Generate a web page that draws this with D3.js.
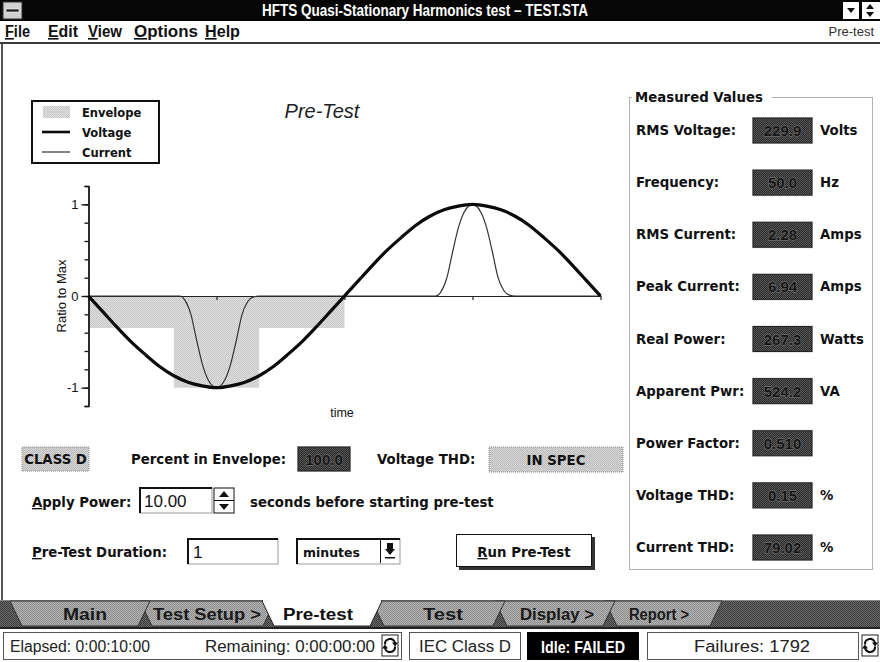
<!DOCTYPE html>
<html>
<head>
<meta charset="utf-8">
<script src="https://cdn.jsdelivr.net/npm/d3@7"></script>
<style>
  body { margin: 0; background: #fff; }
  svg { display: block; }
</style>
</head>
<body>
<script>
// Chart data (x in degrees of one mains cycle)
const voltageDeg = [0,10,20,30,40,50,60,70,80,90,100,110,120,130,140,150,160,170,180,190,200,210,220,230,240,250,260,270,280,290,300,310,320,330,340,350,360];
const voltage = [0,-0.17,-0.34,-0.5,-0.64,-0.77,-0.87,-0.94,-0.98,-1,-0.98,-0.94,-0.87,-0.77,-0.64,-0.5,-0.34,-0.17,0,0.17,0.34,0.5,0.64,0.77,0.87,0.94,0.98,1,0.98,0.94,0.87,0.77,0.64,0.5,0.34,0.17,0];

const currentDeg = [0,64,68,72,76,80,84,88,90,92,96,100,104,108,112,116,120,180,244,248,252,256,260,264,268,270,272,276,280,284,288,292,296,300,360];
const current = [0,0,-0.05,-0.2,-0.48,-0.74,-0.91,-0.99,-1,-0.99,-0.91,-0.74,-0.48,-0.2,-0.06,-0.01,0,0,0,0.05,0.2,0.48,0.74,0.91,0.99,1,0.99,0.91,0.74,0.48,0.2,0.06,0.01,0,0];

// Class D envelope (step levels)
const envelopeDeg = [0,60,120,180];
const envelopeLevel = [-0.35,-1,-0.35,-0.35];

const yMinorTicks = [-1.2,-1,-0.8,-0.6,-0.4,-0.2,0,0.2,0.4,0.6,0.8,1,1.2];
const yMajorTicks = [-1,0,1];
const xTicks = [0,90,180,270,360];

const legendItems = ["Envelope","Voltage","Current"];

// Measured values panel
const mvLabels = ["RMS Voltage:","Frequency:","RMS Current:","Peak Current:","Real Power:","Apparent Pwr:","Power Factor:","Voltage THD:","Current THD:"];
const mvValues = ["229.9","50.0","2.28","6.94","267.3","524.2","0.510","0.15","79.02"];
const mvUnits = ["Volts","Hz","Amps","Amps","Watts","VA","","%","%"];

const menuItems = ["File","Edit","View","Options","Help"];
const tabNames = ["Main","Test Setup >","Pre-test","Test","Display >","Report >"];
const activeTab = "Pre-test";

const W = 880, H = 662;
const SANS = "'Liberation Sans', Arial, sans-serif";
const BOLD = "'DejaVu Sans', 'Liberation Sans', sans-serif";   // stands in for MS Sans Serif bold
const NARROW = "'Liberation Sans Narrow', 'Liberation Sans', Arial, sans-serif";

const svg = d3.select("body").append("svg")
  .attr("width", W).attr("height", H)
  .style("font-family", SANS);

// dither patterns, like the old 16 colour screen
const defs = svg.append("defs");
function dither(id, a, b) {
  const p = defs.append("pattern").attr("id", id)
    .attr("width", 2).attr("height", 2).attr("patternUnits", "userSpaceOnUse");
  p.append("rect").attr("width", 2).attr("height", 2).attr("fill", a);
  p.append("rect").attr("width", 1).attr("height", 1).attr("fill", b);
  p.append("rect").attr("x", 1).attr("y", 1).attr("width", 1).attr("height", 1).attr("fill", b);
}
dither("darkBox", "#2c2c2c", "#555");
dither("lightBox", "#d6d6d6", "#bcbcbc");
dither("envFill", "#dedede", "#c8c8c8");
dither("tabFill", "#b4b4b4", "#8c8c8c");
dither("stripFill", "#6a6a6a", "#3c3c3c");

function label(g, x, y, str, o = {}) {
  const t = g.append("text").attr("x", x).attr("y", y)
    .attr("font-size", o.size || 13.3)
    .attr("font-weight", o.weight || "bold")
    .attr("fill", o.fill || "#111")
    .attr("text-anchor", o.anchor || "start")
    .style("font-family", o.family || BOLD);
  if (o.len) t.attr("textLength", o.len).attr("lengthAdjust", "spacingAndGlyphs");
  if (o.underline) {
    t.append("tspan").style("text-decoration", "underline").text(str[0]);
    t.append("tspan").text(str.slice(1));
  } else {
    t.text(str);
  }
  return t;
}

// ---------- title bar ----------
svg.append("rect").attr("x", 0).attr("y", 0).attr("width", W).attr("height", 21).attr("fill", "#060606");
svg.append("rect").attr("x", 3).attr("y", 2).attr("width", 19).attr("height", 17).attr("fill", "#d0d0d0").attr("stroke", "#333");
svg.append("rect").attr("x", 6).attr("y", 9).attr("width", 13).attr("height", 3).attr("fill", "#222").attr("stroke", "#fff").attr("stroke-width", 0.6);
label(svg, 425, 16, "HFTS Quasi-Stationary Harmonics test \u2013 TEST.STA",
  {size: 16, fill: "#fff", anchor: "middle", family: NARROW, len: 326});
svg.append("rect").attr("x", 843).attr("y", 2).attr("width", 16).attr("height", 17).attr("fill", "#fff");
svg.append("path").attr("d", "M847,8 L855,8 L851,13 Z").attr("fill", "#111");
svg.append("rect").attr("x", 862).attr("y", 2).attr("width", 18).attr("height", 17).attr("fill", "#fff");
svg.append("path").attr("d", "M866,9 L874,9 L870,4 Z M866,12 L874,12 L870,17 Z").attr("fill", "#111");

// ---------- menu bar ----------
const menuX = d3.scaleOrdinal(menuItems, [5, 48, 88, 134, 205]);
const menuW = d3.scaleOrdinal(menuItems, [25, 30, 34, 64, 35]);
menuItems.forEach(m => label(svg, menuX(m), 37, m,
  {size: 16, family: NARROW, len: menuW(m), underline: true}));
label(svg, 874, 36, "Pre-test", {size: 13, weight: "normal", fill: "#333", anchor: "end", family: SANS});
svg.append("rect").attr("x", 0).attr("y", 42).attr("width", W).attr("height", 2).attr("fill", "#3a3a3a");
svg.append("rect").attr("x", 1).attr("y", 44).attr("width", 2).attr("height", 557).attr("fill", "#555");

// ---------- waveform chart ----------
const x = d3.scaleLinear().domain([0, 360]).range([88.5, 600.5]);
const y = d3.scaleLinear().domain([-1.2, 1.2]).range([406, 186]);
const chart = svg.append("g");

chart.append("path")
  .datum(envelopeDeg.map((d, i) => [d, envelopeLevel[i]]))
  .attr("fill", "url(#envFill)")
  .attr("d", d3.area().curve(d3.curveStepAfter)
    .x(d => x(d[0])).y0(y(0)).y1(d => y(d[1])));

const yMinor = chart.append("g").attr("transform", `translate(${x(0)},0)`)
  .call(d3.axisLeft(y).tickValues(yMinorTicks).tickSize(4).tickSizeOuter(4).tickFormat(""));
const yMajor = chart.append("g").attr("transform", `translate(${x(0)},0)`)
  .call(d3.axisLeft(y).tickValues(yMajorTicks).tickSize(7).tickSizeOuter(0).tickFormat(d => String(d)));
[yMinor, yMajor].forEach(a => {
  a.selectAll("path, line").attr("stroke", "#111").attr("stroke-width", 1.3);
  a.selectAll("text").attr("font-size", 13).attr("fill", "#111").style("font-family", SANS);
});

const xAxis = chart.append("g").attr("transform", `translate(0,${y(0)})`)
  .call(d3.axisBottom(x).tickValues(xTicks).tickSize(4).tickSizeOuter(0).tickFormat(""));
xAxis.selectAll("path, line").attr("stroke", "#222").attr("stroke-width", 1.2);

chart.append("path")
  .datum(currentDeg.map((d, i) => [d, current[i]]))
  .attr("fill", "none").attr("stroke", "#333").attr("stroke-width", 1.2)
  .attr("d", d3.line().curve(d3.curveMonotoneX).x(d => x(d[0])).y(d => y(d[1])));

chart.append("path")
  .datum(voltageDeg.map((d, i) => [d, voltage[i]]))
  .attr("fill", "none").attr("stroke", "#0a0a0a").attr("stroke-width", 3.2)
  .attr("d", d3.line().curve(d3.curveNatural).x(d => x(d[0])).y(d => y(d[1])));

label(chart, 342, 417, "time", {size: 12.5, weight: "normal", anchor: "middle", family: SANS});
label(chart, 0, 0, "Ratio to Max", {size: 13, weight: "normal", anchor: "middle", family: SANS})
  .attr("transform", "translate(66,296) rotate(-90)");
label(chart, 322, 118, "Pre-Test", {size: 20, weight: "normal", anchor: "middle", fill: "#222", family: SANS})
  .attr("font-style", "italic");

// legend
const lg = svg.append("g");
lg.append("rect").attr("x", 32).attr("y", 101).attr("width", 127).attr("height", 62)
  .attr("fill", "#fff").attr("stroke", "#111").attr("stroke-width", 2);
const lgY = d3.scalePoint(legendItems, [112, 152]);
lg.append("rect").attr("x", 43).attr("y", lgY("Envelope") - 6).attr("width", 27).attr("height", 12).attr("fill", "url(#envFill)");
lg.append("line").attr("x1", 42).attr("x2", 70).attr("y1", lgY("Voltage")).attr("y2", lgY("Voltage"))
  .attr("stroke", "#0a0a0a").attr("stroke-width", 2.6);
lg.append("line").attr("x1", 42).attr("x2", 70).attr("y1", lgY("Current")).attr("y2", lgY("Current"))
  .attr("stroke", "#333").attr("stroke-width", 1.2);
legendItems.forEach(s => label(lg, 82, lgY(s) + 4.5, s, {size: 11.5}));

// ---------- measured values ----------
const mv = svg.append("g");
mv.append("rect").attr("x", 629.5).attr("y", 97.5).attr("width", 243).attr("height", 472)
  .attr("fill", "none").attr("stroke", "#666").attr("stroke-dasharray", "1,1");
mv.append("rect").attr("x", 632).attr("y", 90).attr("width", 140).attr("height", 14).attr("fill", "#fff");
label(mv, 635, 102, "Measured Values");

const rowY = d3.scalePoint(mvLabels, [130, 547]);
function valueBox(g, x0, y0, w, h, val) {
  g.append("rect").attr("x", x0 - 1).attr("y", y0 - 1).attr("width", w + 2).attr("height", h + 2).attr("fill", "#cfcfcf");
  g.append("rect").attr("x", x0).attr("y", y0).attr("width", w).attr("height", h).attr("fill", "url(#darkBox)")
    .attr("stroke", "#222");
  g.append("text").attr("x", x0 + w / 2).attr("y", y0 + h / 2 + 5.5)
    .attr("text-anchor", "middle").attr("font-size", 15).attr("font-weight", "bold")
    .style("font-family", NARROW)
    .attr("fill", "#151515").attr("stroke", "#808080").attr("stroke-width", 0.8)
    .style("paint-order", "stroke").text(val);
}
mvLabels.forEach((l, i) => {
  const yy = rowY(l);
  label(mv, 636, yy + 5, l);
  valueBox(mv, 753, yy - 12, 59, 25, mvValues[i]);
  if (mvUnits[i]) label(mv, 820, yy + 5, mvUnits[i]);
});

// ---------- controls below chart ----------
const ctl = svg.append("g");
function lightBox(g, x0, y0, w, h, txt) {
  g.append("rect").attr("x", x0).attr("y", y0).attr("width", w).attr("height", h)
    .attr("fill", "url(#lightBox)").attr("stroke", "#8a8a8a").attr("stroke-dasharray", "1,1");
  label(g, x0 + w / 2, y0 + h / 2 + 5, txt, {anchor: "middle"});
}
function inputBox(g, x0, y0, w, h) {
  g.append("rect").attr("x", x0).attr("y", y0).attr("width", w).attr("height", h)
    .attr("fill", "#fff").attr("stroke", "#999");
  g.append("path").attr("d", `M${x0},${y0 + h} V${y0} H${x0 + w}`)
    .attr("fill", "none").attr("stroke", "#111").attr("stroke-width", 2);
}
lightBox(ctl, 22, 447, 67, 24, "CLASS D");
label(ctl, 131, 464, "Percent in Envelope:");
valueBox(ctl, 298, 447, 52, 24, "100.0");
label(ctl, 377, 464, "Voltage THD:");
lightBox(ctl, 489, 447, 134, 25, "IN SPEC");

label(ctl, 32, 507, "Apply Power:", {underline: true});
inputBox(ctl, 140, 488, 72, 25);
label(ctl, 144, 507, "10.00", {size: 17, weight: "normal", family: NARROW});
ctl.append("rect").attr("x", 214).attr("y", 488).attr("width", 20).attr("height", 25)
  .attr("fill", "#fff").attr("stroke", "#111");
ctl.append("line").attr("x1", 214).attr("x2", 234).attr("y1", 500.5).attr("y2", 500.5).attr("stroke", "#111");
ctl.append("path").attr("d", "M219,497 L229,497 L224,491 Z M219,504 L229,504 L224,510 Z").attr("fill", "#111");
label(ctl, 250, 507, "seconds before starting pre-test");

label(ctl, 32, 557, "Pre-Test Duration:", {underline: true});
inputBox(ctl, 188, 539, 90, 25);
label(ctl, 193, 558, "1", {size: 17, weight: "normal", family: NARROW});
inputBox(ctl, 297, 539, 103, 25);
label(ctl, 303, 557, "minutes", {size: 12.5});
ctl.append("line").attr("x1", 380.5).attr("x2", 380.5).attr("y1", 540).attr("y2", 563).attr("stroke", "#111");
ctl.append("path").attr("d", "M385,549 L395,549 L390,555 Z").attr("fill", "#111");
ctl.append("rect").attr("x", 387).attr("y", 543).attr("width", 6).attr("height", 6).attr("fill", "#111");
ctl.append("rect").attr("x", 385).attr("y", 557).attr("width", 10).attr("height", 1.5).attr("fill", "#111");

ctl.append("rect").attr("x", 459).attr("y", 537).attr("width", 136).attr("height", 33).attr("fill", "#333");
ctl.append("rect").attr("x", 456.5).attr("y", 534.5).attr("width", 135).attr("height", 32)
  .attr("fill", "#fff").attr("stroke", "#111");
label(ctl, 524, 557, "Run Pre-Test", {underline: true, anchor: "middle"});

// ---------- tab strip ----------
const tabs = svg.append("g");
tabs.append("rect").attr("x", 0).attr("y", 601).attr("width", W).attr("height", 27).attr("fill", "url(#stripFill)");
tabs.append("line").attr("x1", 0).attr("x2", W).attr("y1", 600.5).attr("y2", 600.5).attr("stroke", "#888");
const tabLeft = d3.scaleOrdinal(tabNames, [10, 140, 262, 372, 495, 605]);
const tabRight = d3.scaleOrdinal(tabNames, [150, 275, 382, 505, 615, 722]);
const tabCx = d3.scaleOrdinal(tabNames, [85, 207, 318, 443, 557, 659]);
const tabLen = d3.scaleOrdinal(tabNames, [44, 108, 70, 40, 74, 60]);
const tabPoly = n => {
  const l = tabLeft(n), r = tabRight(n);
  return `${l},601 ${r},601 ${r - 12},626 ${l + 12},626`;
};
tabNames.filter(n => n !== activeTab).slice().reverse().forEach(n => {
  tabs.append("polygon").attr("points", tabPoly(n)).attr("fill", "url(#tabFill)")
    .attr("stroke", "#333").attr("stroke-width", 1);
  label(tabs, tabCx(n), 620, n, {size: 16, anchor: "middle", family: NARROW, len: tabLen(n), fill: "#1a1a1a"});
});
tabs.append("polygon").attr("points", tabPoly(activeTab)).attr("fill", "#fff")
  .attr("stroke", "#222").attr("stroke-width", 1);
tabs.append("line").attr("x1", tabLeft(activeTab) + 1).attr("x2", tabRight(activeTab) - 1)
  .attr("y1", 601).attr("y2", 601).attr("stroke", "#fff").attr("stroke-width", 2);
label(tabs, tabCx(activeTab), 620, activeTab, {size: 16, anchor: "middle", family: NARROW, len: tabLen(activeTab)});
tabs.append("rect").attr("x", 0).attr("y", 627).attr("width", W).attr("height", 2).attr("fill", "#222");

// ---------- status bar ----------
const sb = svg.append("g");
function statusBox(x0, w, dark) {
  sb.append("rect").attr("x", x0 + 0.5).attr("y", 632.5).attr("width", w).attr("height", 27)
    .attr("fill", dark ? "#000" : "#fff").attr("stroke", dark ? "#000" : "#555");
}
function refreshIcon(x0) {
  sb.append("rect").attr("x", x0).attr("y", 635).attr("width", 16).attr("height", 21)
    .attr("fill", "#fff").attr("stroke", "#222");
  const c = [x0 + 8, 645.5];
  sb.append("path").attr("d", `M${c[0] - 5},${c[1] - 1} A5,5 0 0 1 ${c[0] + 5},${c[1] - 2}`)
    .attr("fill", "none").attr("stroke", "#111").attr("stroke-width", 2.2);
  sb.append("path").attr("d", `M${c[0] + 5},${c[1] + 1} A5,5 0 0 1 ${c[0] - 5},${c[1] + 2}`)
    .attr("fill", "none").attr("stroke", "#111").attr("stroke-width", 2.2);
  sb.append("path").attr("d", `M${c[0] + 2},${c[1] - 3} L${c[0] + 8},${c[1] - 3} L${c[0] + 5},${c[1] + 1} Z`).attr("fill", "#111");
  sb.append("path").attr("d", `M${c[0] - 2},${c[1] + 3} L${c[0] - 8},${c[1] + 3} L${c[0] - 5},${c[1] - 1} Z`).attr("fill", "#111");
}
const statusFont = {size: 16, weight: "normal", family: NARROW, fill: "#222"};
statusBox(3, 398);
label(sb, 10, 652, "Elapsed: 0:00:10:00", {...statusFont, len: 140});
label(sb, 205, 652, "Remaining: 0:00:00:00", {...statusFont, len: 170});
refreshIcon(382);
statusBox(409, 111);
label(sb, 465, 652, "IEC Class D", {...statusFont, len: 92, anchor: "middle"});
statusBox(527, 111, true);
label(sb, 583, 653, "Idle: FAILED", {size: 17, family: NARROW, len: 84, anchor: "middle", fill: "#fff"});
statusBox(647, 211);
label(sb, 752, 652, "Failures: 1792", {...statusFont, len: 116, anchor: "middle"});
refreshIcon(862);
</script>
</body>
</html>
